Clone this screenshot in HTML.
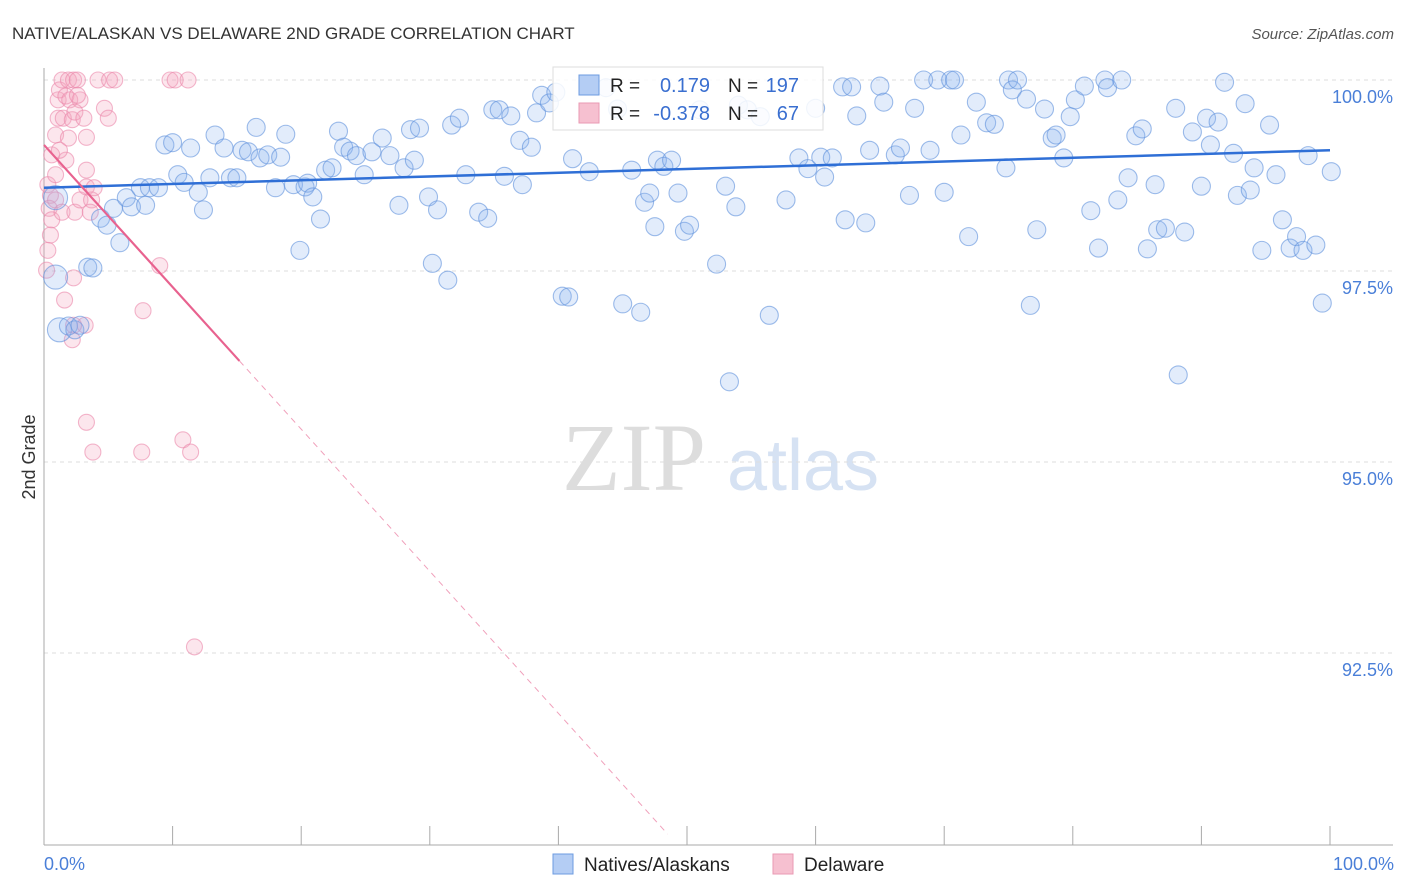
<!DOCTYPE html>
<html><head><meta charset="utf-8"><style>
body{margin:0;background:#fff;font-family:"Liberation Sans",sans-serif}
svg{display:block}
</style></head><body>
<svg id="chart" width="1406" height="892">
<text x="12" y="39" font-size="17" fill="#333">NATIVE/ALASKAN VS DELAWARE 2ND GRADE CORRELATION CHART</text>
<text x="1394" y="39" font-size="15" fill="#555" font-style="italic" text-anchor="end">Source: ZipAtlas.com</text>
<text x="35" y="457" font-size="18" fill="#333" transform="rotate(-90 35 457)" text-anchor="middle">2nd Grade</text>
<g>
<text x="634" y="490" font-size="96" font-family="Liberation Serif,serif" fill="#ddd" text-anchor="middle">ZIP</text>
<text x="803" y="490" font-size="72" fill="#d6e2f3" text-anchor="middle">atlas</text>
</g>
<g id="grid"></g>
<g id="axes"></g>
<g id="pinkpts"></g>
<g id="bluepts"></g>
<g id="lines"></g>
<g>
<rect x="553" y="67" width="270" height="63" fill="#fff" fill-opacity="0.85" stroke="#ddd"/>
<rect x="579" y="75" width="20" height="20" fill="#b4cdf4" stroke="#6c9be0"/>
<text x="610" y="92" font-size="19" fill="#222">R = </text>
<text x="710" y="92" font-size="20" fill="#3a6fd0" text-anchor="end">0.179</text>
<text x="728" y="92" font-size="19" fill="#222">N =</text>
<text x="799" y="92" font-size="20" fill="#3a6fd0" text-anchor="end">197</text>
<rect x="579" y="103" width="20" height="20" fill="#f6c0d0" stroke="#e99ab3"/>
<text x="610" y="120" font-size="19" fill="#222">R = </text>
<text x="710" y="120" font-size="20" fill="#3a6fd0" text-anchor="end">-0.378</text>
<text x="728" y="120" font-size="19" fill="#222">N =</text>
<text x="799" y="120" font-size="20" fill="#3a6fd0" text-anchor="end">67</text>
</g>
<g>
<rect x="553" y="854" width="20" height="20" fill="#b4cdf4" stroke="#6c9be0"/>
<text x="584" y="871" font-size="19" fill="#222">Natives/Alaskans</text>
<rect x="773" y="854" width="20" height="20" fill="#f6c0d0" stroke="#e99ab3"/>
<text x="804" y="871" font-size="19" fill="#222">Delaware</text>
</g>
</svg>
<script>
const yTicks=[100,97.5,95,92.5];
const yTickLabels=["100.0%","97.5%","95.0%","92.5%"];
const xTickLabels=["0.0%","100.0%"];
const blueX=[0.9,0.9,1.2,1.9,2.4,2.8,3.4,3.8,4.4,4.9,5.4,5.9,6.4,6.8,7.5,7.9,8.2,8.9,9.4,10.0,10.4,10.9,11.4,12.0,12.4,12.9,13.3,14.0,14.5,15.0,15.4,15.9,16.5,16.8,17.4,18.0,18.4,18.8,19.4,19.9,20.3,20.5,20.9,21.5,21.9,22.4,22.9,23.3,23.8,24.3,24.9,25.5,26.3,26.9,27.6,28.0,28.5,28.8,29.2,29.9,30.2,30.6,31.4,31.7,32.3,32.8,33.8,34.5,34.9,35.4,35.8,36.3,37.0,37.2,37.9,38.3,38.7,39.3,39.8,40.3,40.8,41.1,42.4,43.7,44.6,45.0,45.7,46.4,46.7,47.1,47.5,47.7,48.2,48.8,49.3,49.8,50.2,51.0,52.3,53.0,53.3,53.8,54.0,54.7,55.7,56.4,57.7,58.7,59.4,60.0,60.4,60.7,61.3,62.1,62.3,62.8,63.2,63.9,64.2,65.0,65.3,66.2,66.6,67.3,67.7,68.4,68.9,69.5,70.0,70.5,70.8,71.3,71.9,72.5,73.3,73.9,74.8,75.0,75.3,75.7,76.4,76.7,77.2,77.8,78.4,78.7,79.3,79.8,80.2,80.9,81.4,82.0,82.5,82.7,83.5,83.8,84.3,84.9,85.4,85.8,86.4,86.6,87.2,88.2,88.0,88.7,89.3,90.0,90.4,90.7,91.3,91.8,92.5,92.8,93.4,93.8,94.1,94.7,95.3,95.8,96.3,96.9,97.4,97.9,98.3,98.9,99.4,100.1];
const blueY=[98.46,97.42,96.73,96.78,96.73,96.79,97.55,97.54,98.19,98.10,98.32,97.87,98.46,98.34,98.59,98.36,98.59,98.59,99.15,99.18,98.76,98.66,99.11,98.53,98.30,98.72,99.28,99.11,98.72,98.72,99.08,99.06,99.38,98.98,99.02,98.59,98.99,99.29,98.63,97.77,98.60,98.65,98.47,98.18,98.82,98.85,99.33,99.12,99.07,99.01,98.76,99.06,99.24,99.01,98.36,98.85,99.35,98.95,99.37,98.47,97.60,98.30,97.38,99.41,99.50,98.76,98.27,98.19,99.61,99.61,98.74,99.53,99.21,98.63,99.12,99.57,99.80,99.70,99.84,97.17,97.16,98.97,98.80,99.90,99.62,97.07,98.82,96.96,98.40,98.52,98.08,98.95,98.87,98.95,98.52,98.02,98.10,99.61,97.59,98.61,96.05,98.34,99.67,99.61,99.52,96.92,98.43,98.98,98.84,99.63,98.99,98.73,98.98,99.91,98.17,99.91,99.53,98.13,99.08,99.92,99.71,99.02,99.11,98.49,99.63,100,99.08,100,98.53,100,100,99.28,97.95,99.71,99.44,99.42,98.85,100,99.87,100,99.75,97.05,98.04,99.62,99.24,99.28,98.98,99.52,99.74,99.92,98.29,97.80,100,99.90,98.43,100,98.72,99.27,99.36,97.79,98.63,98.04,98.06,96.14,99.63,98.01,99.32,98.61,99.50,99.15,99.45,99.97,99.04,98.49,99.69,98.56,98.85,97.77,99.41,98.76,98.17,97.80,97.95,97.77,99.01,97.84,97.08,98.80];
const pinkX=[0.3,0.5,0.4,0.6,0.5,0.3,0.2,0.6,0.9,0.9,1.1,1.1,1.2,1.4,1.7,2.0,1.9,2.3,2.6,2.8,1.5,1.9,2.2,2.4,2.6,3.1,3.3,1.7,1.2,0.9,1.4,2.4,2.8,3.3,3.7,3.6,3.9,4.2,5.1,5.5,4.7,5.0,3.3,2.3,1.6,2.2,3.2,2.3,3.3,3.8,7.6,10.8,11.4,9.0,7.7,11.7,9.8,10.2,11.2];
const pinkY=[98.63,98.49,98.32,98.17,97.97,97.77,97.51,99.02,99.28,98.76,99.50,99.74,99.87,100,99.79,99.74,100,100,100,99.74,99.50,99.24,99.48,99.58,99.80,99.50,99.25,98.95,99.08,98.43,98.27,98.27,98.43,98.60,98.43,98.27,98.59,100,100,100,99.63,99.50,98.82,97.41,97.12,96.60,96.79,96.79,95.52,95.13,95.13,95.29,95.13,97.57,96.98,92.58,100,100,100];
const blueLine=[98.59,99.08];
const pinkLine=[99.15,-0.186];
const NS='http://www.w3.org/2000/svg';
const X0=44,X1=1330,Y100=80,PX_PER=76.4;
function sx(v){return X0+(X1-X0)*v/100;}
function sy(v){return Y100+(100-v)*PX_PER;}
function mk(tag,attrs,parent){const e=document.createElementNS(NS,tag);for(const k in attrs)e.setAttribute(k,attrs[k]);parent.appendChild(e);return e;}
const grid=document.getElementById('grid'),axes=document.getElementById('axes');
yTicks.forEach((t,i)=>{
  const l=mk('line',{x1:44,x2:1393,y1:sy(t),y2:sy(t),stroke:'#ddd','stroke-dasharray':'4,4'},grid);
  
  
  const tx=mk('text',{x:1393,y:sy(t)+23,'font-size':18,fill:'#4a7fd8','text-anchor':'end'},axes);
  tx.textContent=yTickLabels[i];
  
  
});
const ax=mk('line',{x1:44,x2:44,y1:68,y2:845,stroke:'#aaa'},axes);


const bx=mk('line',{x1:44,x2:1393,y1:845,y2:845,stroke:'#aaa'},axes);


for(let i=0;i<=10;i++){
  const t=mk('line',{x1:sx(i*10),x2:sx(i*10),y1:826,y2:845,stroke:'#aaa'},axes);
  
  
}
[[0,'start',44],[100,'end',1394]].forEach((d,i)=>{
  const t=mk('text',{x:d[2],y:870,'font-size':18,fill:'#4a7fd8','text-anchor':d[1]},axes);
  t.textContent=xTickLabels[i];
  
  
});
const pg=document.getElementById('pinkpts');
pinkX.forEach((x,i)=>{
  const c=mk('circle',{cx:sx(x),cy:sy(pinkY[i]),r:8,fill:'rgba(245,165,190,0.28)',stroke:'rgba(235,135,170,0.6)','stroke-width':1.1},pg);
  
  
});
const bg=document.getElementById('bluepts');
blueX.forEach((x,i)=>{
  const c=mk('circle',{cx:sx(x),cy:sy(blueY[i]),r:i<3?12:9,fill:'rgba(140,180,240,0.25)',stroke:'rgba(95,145,220,0.6)','stroke-width':1.1},bg);
  
  
});
const lg=document.getElementById('lines');
const bl=mk('line',{x1:sx(0),y1:sy(blueLine[0]),x2:sx(100),y2:sy(blueLine[1]),stroke:'#2f6fd6','stroke-width':2.5},lg);


const pSolidEnd=15.2,pDashEnd=48.5;
const pl=mk('line',{x1:sx(0),y1:sy(pinkLine[0]),x2:sx(pSolidEnd),y2:sy(pinkLine[0]+pinkLine[1]*pSolidEnd),stroke:'#e8628f','stroke-width':2.2},lg);


const pd=mk('line',{x1:sx(pSolidEnd),y1:sy(pinkLine[0]+pinkLine[1]*pSolidEnd),x2:sx(pDashEnd),y2:sy(pinkLine[0]+pinkLine[1]*pDashEnd),stroke:'#f0a0bb','stroke-width':1,'stroke-dasharray':'6,5'},lg);


</script>
</body></html>
